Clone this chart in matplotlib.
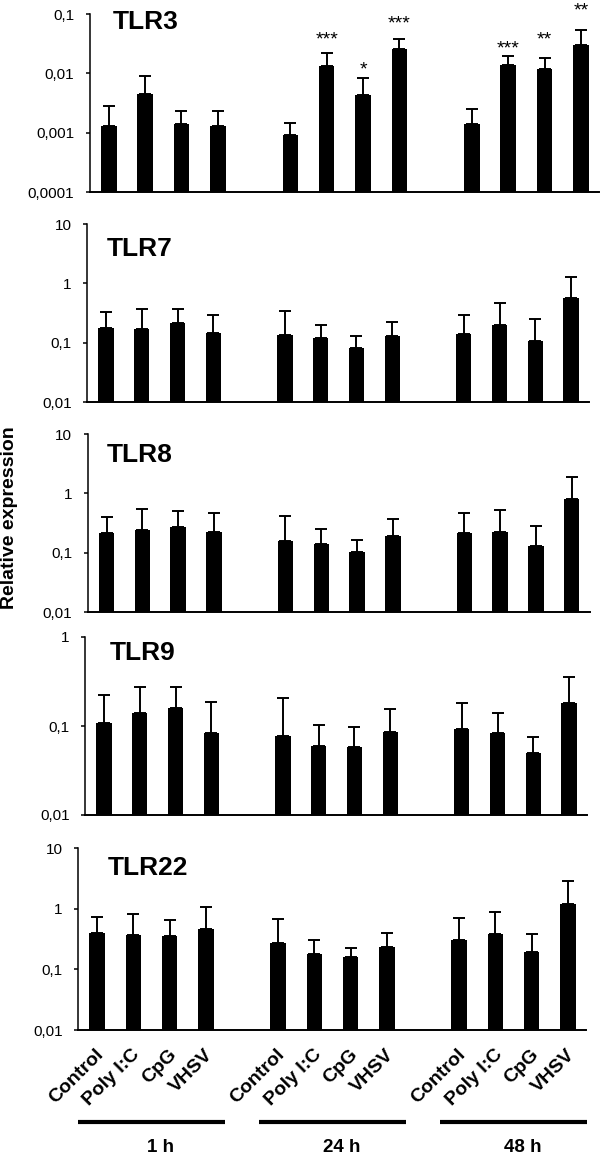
import matplotlib
matplotlib.use('Agg')
import matplotlib.pyplot as plt
import matplotlib.transforms as mtransforms
from matplotlib.ticker import FixedLocator, FixedFormatter, NullLocator
import numpy as np

plt.rcParams['font.family'] = ['Liberation Sans', 'DejaVu Sans']

# ---------------- data ----------------
treatments = ['Control', 'Poly I:C', 'CpG', 'VHSV']
times = ['1 h', '24 h', '48 h']
genes = ['TLR3', 'TLR7', 'TLR8', 'TLR9', 'TLR22']

# order: 1h (C, PIC, CpG, VHSV), 24h (...), 48h (...)
tlr3_mean = [0.00132, 0.00447, 0.00138, 0.00132, 0.00090, 0.01355, 0.00435, 0.0255, 0.00140, 0.0139, 0.01175, 0.0305]
tlr3_upper = [0.00277, 0.00897, 0.00228, 0.00234, 0.00144, 0.0218, 0.0083, 0.038, 0.00253, 0.0197, 0.0182, 0.0532]
tlr3_stars = ['', '', '', '', '', '***', '*', '***', '', '***', '**', '**']

tlr7_mean = [0.178, 0.171, 0.211, 0.147, 0.136, 0.121, 0.082, 0.129, 0.140, 0.196, 0.108, 0.558]
tlr7_upper = [0.332, 0.373, 0.369, 0.292, 0.341, 0.198, 0.128, 0.220, 0.290, 0.460, 0.250, 1.26]

tlr8_mean = [0.211, 0.240, 0.274, 0.225, 0.157, 0.141, 0.103, 0.193, 0.217, 0.225, 0.131, 0.80]
tlr8_upper = [0.394, 0.550, 0.503, 0.471, 0.410, 0.253, 0.161, 0.369, 0.471, 0.523, 0.284, 1.88]

tlr9_mean = [0.107, 0.139, 0.158, 0.0828, 0.0773, 0.0596, 0.058, 0.0857, 0.0925, 0.0834, 0.0493, 0.180]
tlr9_upper = [0.225, 0.272, 0.277, 0.188, 0.205, 0.102, 0.0967, 0.154, 0.180, 0.141, 0.0752, 0.352]

tlr22_mean = [0.404, 0.365, 0.361, 0.463, 0.267, 0.180, 0.157, 0.235, 0.306, 0.389, 0.192, 1.19]
tlr22_upper = [0.729, 0.816, 0.644, 1.08, 0.676, 0.306, 0.226, 0.398, 0.693, 0.869, 0.379, 2.88]

ylims = [(1e-4, 0.1), (0.01, 10), (0.01, 10), (0.01, 1), (0.01, 10)]

means = [tlr3_mean, tlr7_mean, tlr8_mean, tlr9_mean, tlr22_mean]
uppers = [tlr3_upper, tlr7_upper, tlr8_upper, tlr9_upper, tlr22_upper]

# ---------------- layout ----------------
W, H = 600, 1155
fig = plt.figure(figsize=(W / 100, H / 100), dpi=100)

def fx(px):
    return px / W

def fy(py):
    return 1 - py / H

# axes boxes in pixels (left, top, right, bottom)
boxes = [(89.6, 14, 599, 192), (87, 224, 589, 402), (87.6, 434, 589.6, 612),
         (85, 637, 587, 815), (78, 848, 586, 1030)]
title_pos = [(113, 29), (107, 255.5), (107, 462.5), (110, 660), (108, 875)]
star_offset_px = {5: 9, 6: 4, 7: 10, 9: 2, 10: 13, 11: 15}

positions = [g * 5 + t for g in range(len(times)) for t in range(len(treatments))]

def fmt(v):
    return f'{v:g}'.replace('.', ',')

axes = []
for i, gene in enumerate(genes):
    l, t, r, b = boxes[i]
    ax = fig.add_axes([fx(l), fy(b), (r - l) / W, (b - t) / H])
    axes.append(ax)
    m = np.array(means[i])
    u = np.array(uppers[i])
    ax.bar(positions, m, width=0.43, color='black', zorder=2)
    ax.errorbar(positions, m, yerr=[np.zeros_like(m), u - m], fmt='none',
                ecolor='black', elinewidth=1.4, capsize=4.2, capthick=1.4, zorder=1)
    ax.set_yscale('log')
    ax.set_ylim(*ylims[i])
    ax.set_xlim(-0.53, 13.5)
    lo, hi = ylims[i]
    ticks = [10.0 ** k for k in range(int(round(np.log10(lo))), int(round(np.log10(hi))) + 1)]
    ax.yaxis.set_major_locator(FixedLocator(ticks))
    ax.yaxis.set_major_formatter(FixedFormatter([fmt(v) for v in ticks]))
    ax.yaxis.set_minor_locator(NullLocator())
    ax.set_xticks([])
    for s in ['top', 'right']:
        ax.spines[s].set_visible(False)
    ax.spines['left'].set_linewidth(1.1)
    ax.spines['bottom'].set_linewidth(1.4)
    ax.tick_params(axis='y', direction='out', length=3, width=1.1, pad=8,
                   labelsize=11, colors='black')
    ax.patch.set_alpha(0)
    tx, ty = title_pos[i]
    fig.text(fx(tx), fy(ty), gene, fontsize=19, fontweight='bold',
             ha='left', va='baseline')

# significance stars (TLR3)
ax1 = axes[0]
for j, st in enumerate(tlr3_stars):
    if st:
        ax1.annotate(st, xy=(positions[j], tlr3_upper[j]),
                     xytext=(0, star_offset_px[j] * 0.72), textcoords='offset points',
                     ha='center', va='baseline', fontsize=14, annotation_clip=False)

# x category labels below last panel
ax5 = axes[-1]
for j, p in enumerate(positions):
    ax5.annotate(treatments[j % 4], xy=(p, 0), xycoords=('data', 'axes fraction'),
                 xytext=(3, -16), textcoords='offset points',
                 rotation=45, rotation_mode='anchor', ha='right', va='center',
                 fontsize=14, fontweight='bold', annotation_clip=False)

# group lines and labels
trans = mtransforms.blended_transform_factory(ax5.transData, fig.transFigure)
for g, lab in enumerate(times):
    c = g * 5 + 1.5
    ax5.plot([c - 2.02, c + 2.02], [fy(1121.7), fy(1121.7)], color='black',
             lw=3.0, transform=trans, clip_on=False, solid_capstyle='butt')
    ax5.text(c + 0.25, fy(1151.5), lab, transform=trans, ha='center', va='baseline',
             fontsize=13.5, fontweight='bold')

fig.text(fx(10), fy(518), 'Relative expression', rotation=90, ha='center', va='center',
         fontsize=14, fontweight='bold')

fig.savefig('out.png', dpi=100)
